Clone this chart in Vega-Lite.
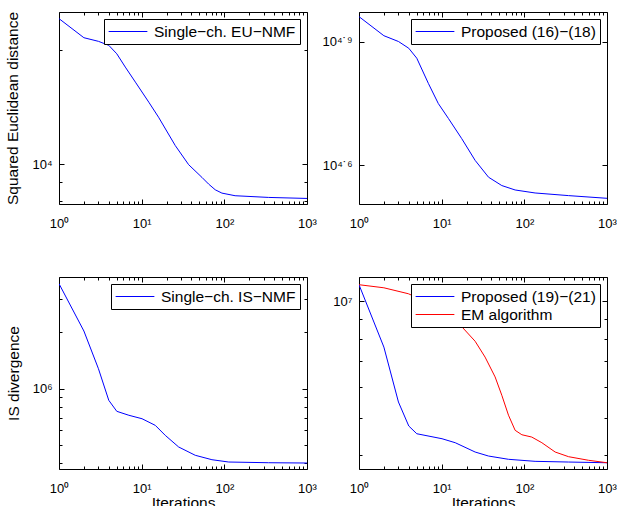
{
  "$schema": "https://vega.github.io/schema/vega-lite/v6.json",
  "padding": {"left": 5, "top": 10, "right": 5, "bottom": 5},
  "background": "white",
  "config": {
    "font": "Liberation Sans",
    "view": {"stroke": "black", "strokeWidth": 1},
    "axis": {
      "domain": false, "grid": false, "tickColor": "black", "tickWidth": 1,
      "labelColor": "black", "labelFontSize": 13, "labelFont": "Liberation Sans",
      "titleFontSize": 15.5, "titleFontWeight": "normal", "titleColor": "black", "titleFont": "Liberation Sans",
      "labelFlush": false, "labelOverlap": false
    },
    "legend": {
      "title": null, "orient": "top-right", "offset": 7, "symbolType": "stroke", "symbolSize": 1500,
      "symbolStrokeWidth": 1, "strokeColor": "black", "fillColor": "white", "padding": 4,
      "labelFont": "Liberation Sans", "labelFontSize": 15.5, "labelColor": "black", "cornerRadius": 0,
      "labelOffset": 6, "rowPadding": 1, "clipHeight": 17
    }
  },
  "datasets": {
    "p1": [
      {"it": 1, "v": 24240, "s": "Single−ch. EU−NMF"},
      {"it": 2, "v": 21590, "s": "Single−ch. EU−NMF"},
      {"it": 3, "v": 21120, "s": "Single−ch. EU−NMF"},
      {"it": 4, "v": 20610, "s": "Single−ch. EU−NMF"},
      {"it": 5, "v": 19580, "s": "Single−ch. EU−NMF"},
      {"it": 6.34, "v": 18060, "s": "Single−ch. EU−NMF"},
      {"it": 8.4, "v": 16480, "s": "Single−ch. EU−NMF"},
      {"it": 12.2, "v": 14590, "s": "Single−ch. EU−NMF"},
      {"it": 16, "v": 13320, "s": "Single−ch. EU−NMF"},
      {"it": 25.5, "v": 11210, "s": "Single−ch. EU−NMF"},
      {"it": 37, "v": 9982, "s": "Single−ch. EU−NMF"},
      {"it": 53.6, "v": 9240, "s": "Single−ch. EU−NMF"},
      {"it": 64.6, "v": 8870, "s": "Single−ch. EU−NMF"},
      {"it": 77.6, "v": 8570, "s": "Single−ch. EU−NMF"},
      {"it": 93.5, "v": 8398, "s": "Single−ch. EU−NMF"},
      {"it": 135, "v": 8265, "s": "Single−ch. EU−NMF"},
      {"it": 344, "v": 8180, "s": "Single−ch. EU−NMF"},
      {"it": 1000, "v": 8130, "s": "Single−ch. EU−NMF"}
    ],
    "p2": [
      {"it": 1, "v": 91540, "s": "Proposed (16)−(18)"},
      {"it": 2, "v": 82270, "s": "Proposed (16)−(18)"},
      {"it": 3, "v": 79650, "s": "Proposed (16)−(18)"},
      {"it": 4, "v": 76690, "s": "Proposed (16)−(18)"},
      {"it": 5, "v": 72520, "s": "Proposed (16)−(18)"},
      {"it": 6.9, "v": 63000, "s": "Proposed (16)−(18)"},
      {"it": 9.1, "v": 56290, "s": "Proposed (16)−(18)"},
      {"it": 12.1, "v": 51720, "s": "Proposed (16)−(18)"},
      {"it": 17.5, "v": 46220, "s": "Proposed (16)−(18)"},
      {"it": 25.4, "v": 40930, "s": "Proposed (16)−(18)"},
      {"it": 36.9, "v": 37250, "s": "Proposed (16)−(18)"},
      {"it": 53.4, "v": 35550, "s": "Proposed (16)−(18)"},
      {"it": 77.4, "v": 34680, "s": "Proposed (16)−(18)"},
      {"it": 135, "v": 34100, "s": "Proposed (16)−(18)"},
      {"it": 343, "v": 33600, "s": "Proposed (16)−(18)"},
      {"it": 1000, "v": 33100, "s": "Proposed (16)−(18)"}
    ],
    "p3": [
      {"it": 1, "v": 3644000, "s": "Single−ch. IS−NMF"},
      {"it": 2, "v": 2035000, "s": "Single−ch. IS−NMF"},
      {"it": 3, "v": 1279000, "s": "Single−ch. IS−NMF"},
      {"it": 4, "v": 867000, "s": "Single−ch. IS−NMF"},
      {"it": 5, "v": 757000, "s": "Single−ch. IS−NMF"},
      {"it": 7, "v": 721000, "s": "Single−ch. IS−NMF"},
      {"it": 10.1, "v": 691000, "s": "Single−ch. IS−NMF"},
      {"it": 14.6, "v": 637000, "s": "Single−ch. IS−NMF"},
      {"it": 19.3, "v": 563000, "s": "Single−ch. IS−NMF"},
      {"it": 28, "v": 488000, "s": "Single−ch. IS−NMF"},
      {"it": 44.5, "v": 440500, "s": "Single−ch. IS−NMF"},
      {"it": 70.8, "v": 417200, "s": "Single−ch. IS−NMF"},
      {"it": 113, "v": 405500, "s": "Single−ch. IS−NMF"},
      {"it": 343, "v": 402000, "s": "Single−ch. IS−NMF"},
      {"it": 1000, "v": 400500, "s": "Single−ch. IS−NMF"}
    ],
    "p4": [
      {"it": 1, "v": 11040000, "s": "Proposed (19)−(21)"},
      {"it": 2, "v": 7610000, "s": "Proposed (19)−(21)"},
      {"it": 3, "v": 5484000, "s": "Proposed (19)−(21)"},
      {"it": 4, "v": 4753000, "s": "Proposed (19)−(21)"},
      {"it": 5, "v": 4539000, "s": "Proposed (19)−(21)"},
      {"it": 10.1, "v": 4406000, "s": "Proposed (19)−(21)"},
      {"it": 14.6, "v": 4302000, "s": "Proposed (19)−(21)"},
      {"it": 25.4, "v": 4070000, "s": "Proposed (19)−(21)"},
      {"it": 36.8, "v": 3974000, "s": "Proposed (19)−(21)"},
      {"it": 64.3, "v": 3897000, "s": "Proposed (19)−(21)"},
      {"it": 135, "v": 3850000, "s": "Proposed (19)−(21)"},
      {"it": 343, "v": 3834000, "s": "Proposed (19)−(21)"},
      {"it": 1000, "v": 3818000, "s": "Proposed (19)−(21)"},
      {"it": 1, "v": 11040000, "s": "EM algorithm"},
      {"it": 2, "v": 10840000, "s": "EM algorithm"},
      {"it": 3.96, "v": 10460000, "s": "EM algorithm"},
      {"it": 8, "v": 9780000, "s": "EM algorithm"},
      {"it": 12, "v": 9220000, "s": "EM algorithm"},
      {"it": 17.2, "v": 8630000, "s": "EM algorithm"},
      {"it": 25.4, "v": 7880000, "s": "EM algorithm"},
      {"it": 33.5, "v": 7170000, "s": "EM algorithm"},
      {"it": 44.3, "v": 6370000, "s": "EM algorithm"},
      {"it": 53.4, "v": 5710000, "s": "EM algorithm"},
      {"it": 64.3, "v": 5070000, "s": "EM algorithm"},
      {"it": 77.4, "v": 4633000, "s": "EM algorithm"},
      {"it": 93.3, "v": 4512000, "s": "EM algorithm"},
      {"it": 123, "v": 4450000, "s": "EM algorithm"},
      {"it": 163, "v": 4302000, "s": "EM algorithm"},
      {"it": 236, "v": 4070000, "s": "EM algorithm"},
      {"it": 343, "v": 3958000, "s": "EM algorithm"},
      {"it": 598, "v": 3874000, "s": "EM algorithm"},
      {"it": 1000, "v": 3818000, "s": "EM algorithm"}
    ]
  },
  "columns": 2,
  "spacing": {"row": 73, "column": 52},
  "bounds": "flush",
  "resolve": {"scale": {"color": "independent", "x": "independent", "y": "independent"}, "legend": {"color": "independent"}},
  "concat": [
    {
      "width": 248, "height": 192,
      "data": {"name": "p1"},
      "layer": [
        {
          "mark": {"type": "line", "strokeWidth": 1, "clip": true},
          "encoding": {
            "x": {"field": "it", "type": "quantitative", "scale": {"type": "log", "domain": [1, 1000], "nice": false},
              "axis": {"orient": "bottom", "title": null, "values": [1,2,3,4,5,6,7,8,9,10,20,30,40,50,60,70,80,90,100,200,300,400,500,600,700,800,900,1000],
                "tickSize": {"condition": {"test": "indexof([1,10,100,1000], datum.value) >= 0", "value": -5}, "value": -3},
                "labelPadding": 18,
                "labelExpr": "datum.value == 1 ? '10⁰' : datum.value == 10 ? '10¹' : datum.value == 100 ? '10²' : datum.value == 1000 ? '10³' : ''"}},
            "y": {"field": "v", "type": "quantitative", "scale": {"type": "log", "domain": [7860, 25240], "nice": false},
              "axis": {"orient": "left", "title": "Squared Euclidean distance", "titlePadding": 11, "values": [8000, 9000, 10000, 20000],
                "tickSize": {"condition": {"test": "datum.value == 10000", "value": -5}, "value": -3},
                "labelPadding": 12,
                "labelExpr": "datum.value == 10000 ? '10⁴' : ''"}},
            "color": {"field": "s", "type": "nominal", "scale": {"range": ["#0000ff"]}}
          }
        },
        {
          "mark": {"type": "line", "opacity": 0},
          "encoding": {
            "x": {"field": "it", "type": "quantitative",
              "axis": {"orient": "top", "title": null, "labels": false, "values": [1,2,3,4,5,6,7,8,9,10,20,30,40,50,60,70,80,90,100,200,300,400,500,600,700,800,900,1000],
                "tickSize": {"condition": {"test": "indexof([1,10,100,1000], datum.value) >= 0", "value": -5}, "value": -3}}},
            "y": {"field": "v", "type": "quantitative",
              "axis": {"orient": "right", "title": null, "labels": false, "values": [8000, 9000, 10000, 20000],
                "tickSize": {"condition": {"test": "datum.value == 10000", "value": -5}, "value": -3}}}
          }
        }
      ],
      "resolve": {"axis": {"x": "independent", "y": "independent"}}
    },
    {
      "width": 248, "height": 192,
      "data": {"name": "p2"},
      "layer": [
        {
          "mark": {"type": "line", "strokeWidth": 1, "clip": true},
          "encoding": {
            "x": {"field": "it", "type": "quantitative", "scale": {"type": "log", "domain": [1, 1000], "nice": false},
              "axis": {"orient": "bottom", "title": null, "values": [1,2,3,4,5,6,7,8,9,10,20,30,40,50,60,70,80,90,100,200,300,400,500,600,700,800,900,1000],
                "tickSize": {"condition": {"test": "indexof([1,10,100,1000], datum.value) >= 0", "value": -5}, "value": -3},
                "labelPadding": 18,
                "labelExpr": "datum.value == 1 ? '10⁰' : datum.value == 10 ? '10¹' : datum.value == 100 ? '10²' : datum.value == 1000 ? '10³' : ''"}},
            "y": {"field": "v", "type": "quantitative", "scale": {"type": "log", "domain": [32060, 93950], "nice": false},
              "axis": {"orient": "left", "title": null, "values": [39810.717, 79432.823],
                "tickSize": -5,
                "labelPadding": 12,
                "labelExpr": "datum.value < 50000 ? '10⁴˙⁶' : '10⁴˙⁹'"}},
            "color": {"field": "s", "type": "nominal", "scale": {"range": ["#0000ff"]}}
          }
        },
        {
          "mark": {"type": "line", "opacity": 0},
          "encoding": {
            "x": {"field": "it", "type": "quantitative",
              "axis": {"orient": "top", "title": null, "labels": false, "values": [1,2,3,4,5,6,7,8,9,10,20,30,40,50,60,70,80,90,100,200,300,400,500,600,700,800,900,1000],
                "tickSize": {"condition": {"test": "indexof([1,10,100,1000], datum.value) >= 0", "value": -5}, "value": -3}}},
            "y": {"field": "v", "type": "quantitative",
              "axis": {"orient": "right", "title": null, "labels": false, "values": [39810.717, 79432.823], "tickSize": -5}}
          }
        }
      ],
      "resolve": {"axis": {"x": "independent", "y": "independent"}}
    },
    {
      "width": 248, "height": 192,
      "data": {"name": "p3"},
      "layer": [
        {
          "mark": {"type": "line", "strokeWidth": 1, "clip": true},
          "encoding": {
            "x": {"field": "it", "type": "quantitative", "scale": {"type": "log", "domain": [1, 1000], "nice": false},
              "axis": {"orient": "bottom", "title": "Iterations", "titlePadding": -2, "values": [1,2,3,4,5,6,7,8,9,10,20,30,40,50,60,70,80,90,100,200,300,400,500,600,700,800,900,1000],
                "tickSize": {"condition": {"test": "indexof([1,10,100,1000], datum.value) >= 0", "value": -5}, "value": -3},
                "labelPadding": 18,
                "labelExpr": "datum.value == 1 ? '10⁰' : datum.value == 10 ? '10¹' : datum.value == 100 ? '10²' : datum.value == 1000 ? '10³' : ''"}},
            "y": {"field": "v", "type": "quantitative", "scale": {"type": "log", "domain": [372100, 3957000], "nice": false},
              "axis": {"orient": "left", "title": "IS divergence", "titlePadding": 11, "values": [400000, 500000, 600000, 700000, 800000, 900000, 1000000, 2000000, 3000000],
                "tickSize": {"condition": {"test": "datum.value == 1000000", "value": -5}, "value": -3},
                "labelPadding": 12,
                "labelExpr": "datum.value == 1000000 ? '10⁶' : ''"}},
            "color": {"field": "s", "type": "nominal", "scale": {"range": ["#0000ff"]}}
          }
        },
        {
          "mark": {"type": "line", "opacity": 0},
          "encoding": {
            "x": {"field": "it", "type": "quantitative",
              "axis": {"orient": "top", "title": null, "labels": false, "values": [1,2,3,4,5,6,7,8,9,10,20,30,40,50,60,70,80,90,100,200,300,400,500,600,700,800,900,1000],
                "tickSize": {"condition": {"test": "indexof([1,10,100,1000], datum.value) >= 0", "value": -5}, "value": -3}}},
            "y": {"field": "v", "type": "quantitative",
              "axis": {"orient": "right", "title": null, "labels": false, "values": [400000, 500000, 600000, 700000, 800000, 900000, 1000000, 2000000, 3000000],
                "tickSize": {"condition": {"test": "datum.value == 1000000", "value": -5}, "value": -3}}}
          }
        }
      ],
      "resolve": {"axis": {"x": "independent", "y": "independent"}}
    },
    {
      "width": 248, "height": 192,
      "data": {"name": "p4"},
      "layer": [
        {
          "mark": {"type": "line", "strokeWidth": 1, "clip": true},
          "encoding": {
            "x": {"field": "it", "type": "quantitative", "scale": {"type": "log", "domain": [1, 1000], "nice": false},
              "axis": {"orient": "bottom", "title": "Iterations", "titlePadding": -2, "values": [1,2,3,4,5,6,7,8,9,10,20,30,40,50,60,70,80,90,100,200,300,400,500,600,700,800,900,1000],
                "tickSize": {"condition": {"test": "indexof([1,10,100,1000], datum.value) >= 0", "value": -5}, "value": -3},
                "labelPadding": 18,
                "labelExpr": "datum.value == 1 ? '10⁰' : datum.value == 10 ? '10¹' : datum.value == 100 ? '10²' : datum.value == 1000 ? '10³' : ''"}},
            "y": {"field": "v", "type": "quantitative", "scale": {"type": "log", "domain": [3678000, 11560000], "nice": false},
              "axis": {"orient": "left", "title": null, "values": [4000000, 5000000, 6000000, 7000000, 8000000, 9000000, 10000000],
                "tickSize": {"condition": {"test": "datum.value == 10000000", "value": -5}, "value": -3},
                "labelPadding": 12,
                "labelExpr": "datum.value == 10000000 ? '10⁷' : ''"}},
            "color": {"field": "s", "type": "nominal", "scale": {"domain": ["Proposed (19)−(21)", "EM algorithm"], "range": ["#0000ff", "#ff0000"]}}
          }
        },
        {
          "mark": {"type": "line", "opacity": 0},
          "encoding": {
            "x": {"field": "it", "type": "quantitative",
              "axis": {"orient": "top", "title": null, "labels": false, "values": [1,2,3,4,5,6,7,8,9,10,20,30,40,50,60,70,80,90,100,200,300,400,500,600,700,800,900,1000],
                "tickSize": {"condition": {"test": "indexof([1,10,100,1000], datum.value) >= 0", "value": -5}, "value": -3}}},
            "y": {"field": "v", "type": "quantitative",
              "axis": {"orient": "right", "title": null, "labels": false, "values": [4000000, 5000000, 6000000, 7000000, 8000000, 9000000, 10000000],
                "tickSize": {"condition": {"test": "datum.value == 10000000", "value": -5}, "value": -3}}}
          }
        }
      ],
      "resolve": {"axis": {"x": "independent", "y": "independent"}}
    }
  ]
}
